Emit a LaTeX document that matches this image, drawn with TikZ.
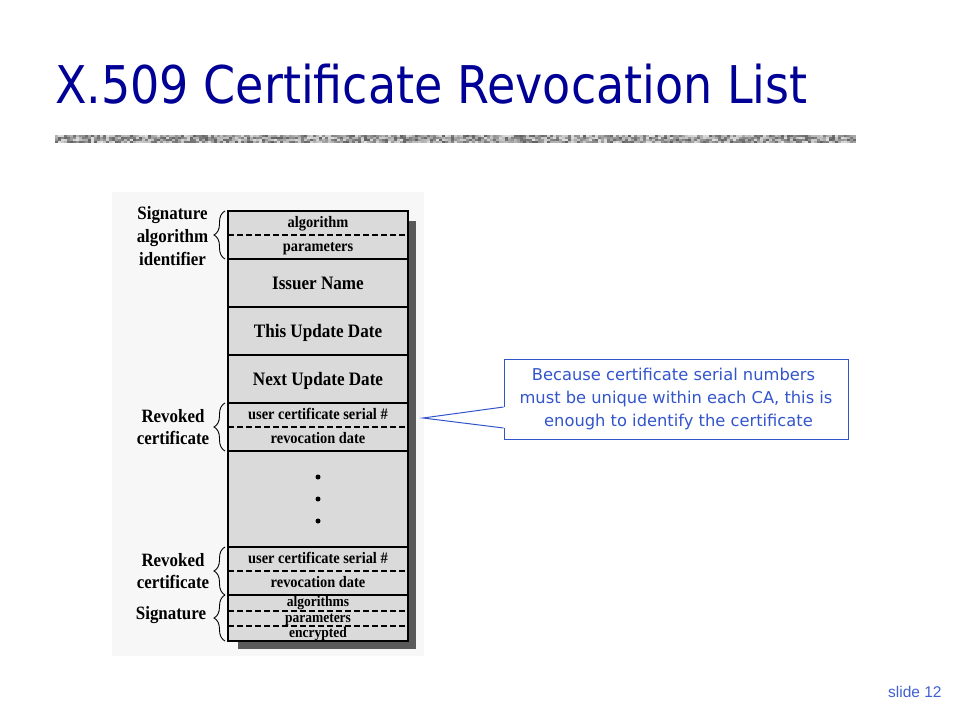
\documentclass[tikz,border=0pt]{standalone}
\usepackage{fontspec}
\setmainfont{Liberation Serif}
\newfontfamily\tabfont[FakeStretch=0.9]{Liberation Serif}
\newfontfamily\titlefont[FakeStretch=0.885]{DejaVu Sans}
\newfontfamily\notefont{DejaVu Sans}
\newfontfamily\slidefont{Liberation Sans}
\usetikzlibrary{decorations.pathreplacing,calc,backgrounds}
\definecolor{titleblue}{RGB}{0,0,150}
\definecolor{cellgray}{RGB}{218,218,218}
\definecolor{shadowgray}{RGB}{90,90,90}
\definecolor{panelbg}{RGB}{247,247,247}
\definecolor{noteblue}{RGB}{51,85,204}
\definecolor{slideblue}{RGB}{64,96,208}
\begin{document}
\begin{tikzpicture}[x=1pt,y=-1pt,
  row/.style={fill=cellgray, minimum width=180pt, inner sep=0pt, outer sep=0pt,
    font=\tabfont\fontsize{16}{18}\selectfont\bfseries, text height=11.5pt, text depth=2.5pt},
  bigrow/.style={row, font=\tabfont\fontsize{19}{21}\selectfont\bfseries, text height=14pt, text depth=1pt},
  tinyrow/.style={row, minimum height=15pt, font=\tabfont\fontsize{15}{16}\selectfont\bfseries, text height=10pt, text depth=3pt},
  frame/.style={draw=black, line width=1.8pt},
  dashline/.style={draw=black, line width=1.3pt, dash pattern=on 5.5pt off 3.5pt},
  bracestyle/.style={draw=black, line width=0.9pt, decorate, decoration={brace, amplitude=11pt, aspect=0.5}},
  side/.style={align=center, inner sep=0pt, font=\tabfont\fontsize{18.8}{22.7}\selectfont\bfseries},
  dotnode/.style={circle, fill=black, minimum size=5pt, inner sep=0pt},
  note/.style={draw=noteblue, line width=1pt, fill=white, minimum width=344pt, minimum height=80pt,
    align=center, text=noteblue, inner sep=0pt, font=\notefont\fontsize{16.3}{22.7}\selectfont}
]
\useasboundingbox (0,0) rectangle (960,720);
\begin{pgfonlayer}{background}
\fill[white] (0,0) rectangle (960,720);
\fill[panelbg] (112,192) rectangle (424,656);
\end{pgfonlayer}

% title
\node[anchor=base west, inner sep=0pt, text=titleblue, font=\titlefont\fontsize{52}{60}\selectfont] (title) at (55,103) {X.509 Certificate Revocation List};

% separator bar
\fill[black!35] (55,135) rectangle (856,143);
\pgfmathsetseed{12}
\foreach \i in {0,...,266}{
  \foreach \j in {0,1,2,3}{
    \pgfmathsetmacro\g{12+50*rnd}
    \fill[black!\g] (55+3*\i,135+2*\j) rectangle ++(3,2);
  }
}

% rows
\node[row, minimum height=24pt] (alg) at (318,223) {algorithm};
\node[row, minimum height=24pt] (par) at (318,247) {parameters};
\node[bigrow, minimum height=48pt] (iss) at (318,283) {Issuer Name};
\node[bigrow, minimum height=48pt] (thu) at (318,331) {This Update Date};
\node[bigrow, minimum height=48pt] (nxu) at (318,379) {Next Update Date};
\node[row, minimum height=24pt] (ucsa) at (318,415) {user certificate serial \#};
\node[row, minimum height=24pt] (rvda) at (318,439) {revocation date};
\node[row, minimum height=96pt] (dots) at (318,499) {};
\node[row, minimum height=24pt] (ucsb) at (318,559) {user certificate serial \#};
\node[row, minimum height=24pt] (rvdb) at (318,583) {revocation date};
\node[tinyrow, minimum height=16pt] (salg) at (318,603) {algorithms};
\node[tinyrow] (spar) at (318,618.5) {parameters};
\node[tinyrow] (senc) at (318,633.5) {encrypted};

% shadow behind the table
\begin{pgfonlayer}{background}
\fill[shadowgray] ($(alg.north west)+(10,10)$) rectangle ($(senc.south east)+(8,8)$);
\end{pgfonlayer}

% dashed separators
\draw[dashline] (alg.south west) -- (alg.south east);
\draw[dashline] (ucsa.south west) -- (ucsa.south east);
\draw[dashline] (ucsb.south west) -- (ucsb.south east);
\draw[dashline] (salg.south west) -- (salg.south east);
\draw[dashline] (spar.south west) -- (spar.south east);

% frames
\draw[frame] (alg.north west) rectangle (par.south east);
\draw[frame] (iss.north west) rectangle (iss.south east);
\draw[frame] (thu.north west) rectangle (thu.south east);
\draw[frame] (nxu.north west) rectangle (nxu.south east);
\draw[frame] (ucsa.north west) rectangle (rvda.south east);
\draw[frame] (dots.north west) rectangle (dots.south east);
\draw[frame] (ucsb.north west) rectangle (rvdb.south east);
\draw[frame] (salg.north west) rectangle (senc.south east);

% dots
\node[dotnode] (d1) at ($(dots.center)+(0,-22)$) {};
\node[dotnode] (d2) at (dots.center) {};
\node[dotnode] (d3) at ($(dots.center)+(0,22)$) {};

% braces
\draw[bracestyle] ([xshift=-3pt]par.south west) -- ([xshift=-3pt]alg.north west);
\draw[bracestyle] ([xshift=-3pt]rvda.south west) -- ([xshift=-3pt]ucsa.north west);
\draw[bracestyle] ([xshift=-3pt]rvdb.south west) -- ([xshift=-3pt]ucsb.north west);
\draw[bracestyle] ([xshift=-3pt]senc.south west) -- ([xshift=-3pt]salg.north west);

% side labels
\node[side] (lsig) at (172.5,236) {Signature\\algorithm\\identifier};
\node[side] (lrva) at (173,427) {Revoked\\certificate};
\node[side] (lrvb) at (173,571) {Revoked\\certificate};
\node[side] (lsgn) at (171,615) {Signature};

% callout
\node[note] (note) at (676,399) {Because certificate serial numbers\hspace*{5pt}\\must be unique within each CA, this is\\\hspace*{5pt}enough to identify the certificate};
\coordinate (tip) at (423,418);
\coordinate (pa) at ($(note.west)+(0,8)$);
\coordinate (pb) at ($(note.west)+(0,29)$);
\fill[white] ($(pa)+(1.5,0)$) -- (tip) -- ($(pb)+(1.5,0)$) -- cycle;
\draw[noteblue, line width=1pt, line join=miter] (pa) -- (tip) -- (pb);

% slide number
\node[anchor=base west, inner sep=0pt, text=slideblue, font=\slidefont\fontsize{15.5}{18}\selectfont] (slide) at (888,697) {slide 12};
\end{tikzpicture}
\end{document}
